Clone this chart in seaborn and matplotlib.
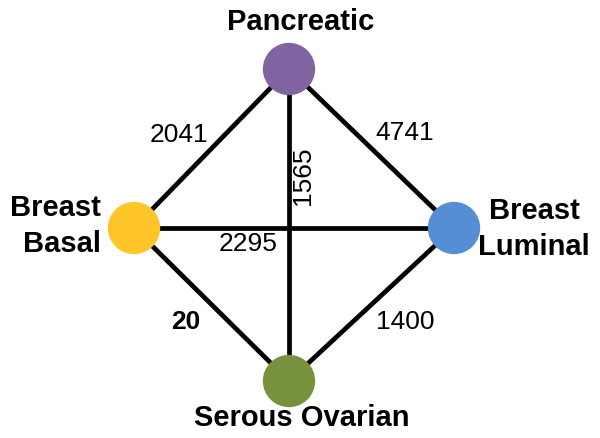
import matplotlib.pyplot as plt
import pandas as pd
import seaborn as sns

# nodes and edge weights
nodes = ["Pancreatic", "Breast Basal", "Breast Luminal", "Serous Ovarian"]
node_colors = ["#8063A1", "#FFC52A", "#558ED5", "#76923C"]
edge_src = ["Pancreatic", "Pancreatic", "Pancreatic", "Breast Basal", "Breast Basal", "Breast Luminal"]
edge_dst = ["Breast Basal", "Breast Luminal", "Serous Ovarian", "Breast Luminal", "Serous Ovarian", "Serous Ovarian"]
edge_weights = [2041, 4741, 1565, 2295, 20, 1400]

# layout (pixel coordinates)
pos = {
    "Pancreatic": (289, 69),
    "Breast Basal": (134, 228),
    "Breast Luminal": (454, 228),
    "Serous Ovarian": (289, 381),
}
label_pos = {
    "Pancreatic": (301, 22, "center"),
    "Breast Basal": (101, 226, "right"),
    "Breast Luminal": (534, 229, "center"),
    "Serous Ovarian": (302, 418, "center"),
}
weight_pos = [(179, 135, 0), (405, 133, 0), (303, 176, 90), (248, 244, 0), (186, 322, 0), (405, 322, 0)]
weight_bold = [False, False, False, False, True, False]

sns.set_theme(style="white")
plt.rcParams["font.family"] = ["Liberation Sans", "DejaVu Sans"]

fig = plt.figure(figsize=(6, 4.38), dpi=100)
ax = fig.add_axes([0, 0, 1, 1])
ax.set_xlim(0, 600)
ax.set_ylim(438, 0)
ax.axis("off")

for s, d in zip(edge_src, edge_dst):
    x0, y0 = pos[s]
    x1, y1 = pos[d]
    ax.plot([x0, x1], [y0, y1], color="black", lw=3.4, zorder=1, solid_capstyle="butt")

df = pd.DataFrame({
    "name": nodes,
    "x": [pos[n][0] for n in nodes],
    "y": [pos[n][1] for n in nodes],
})
sns.scatterplot(data=df, x="x", y="y", hue="name", palette=node_colors,
                s=1420, linewidth=0, legend=False, ax=ax, zorder=2)

for n in nodes:
    x, y, ha = label_pos[n]
    txt = n.replace(" ", "\n") if n.startswith("Breast") else n
    ax.text(x, y, txt, ha=ha, va="center", fontsize=21, fontweight="bold",
            color="black", linespacing=1.4)

for w, (x, y, rot), b in zip(edge_weights, weight_pos, weight_bold):
    ax.text(x, y, str(w), ha="center", va="center", rotation=rot, fontsize=19,
            fontweight="bold" if b else "normal", color="black")

fig.savefig("out.png", dpi=100)
